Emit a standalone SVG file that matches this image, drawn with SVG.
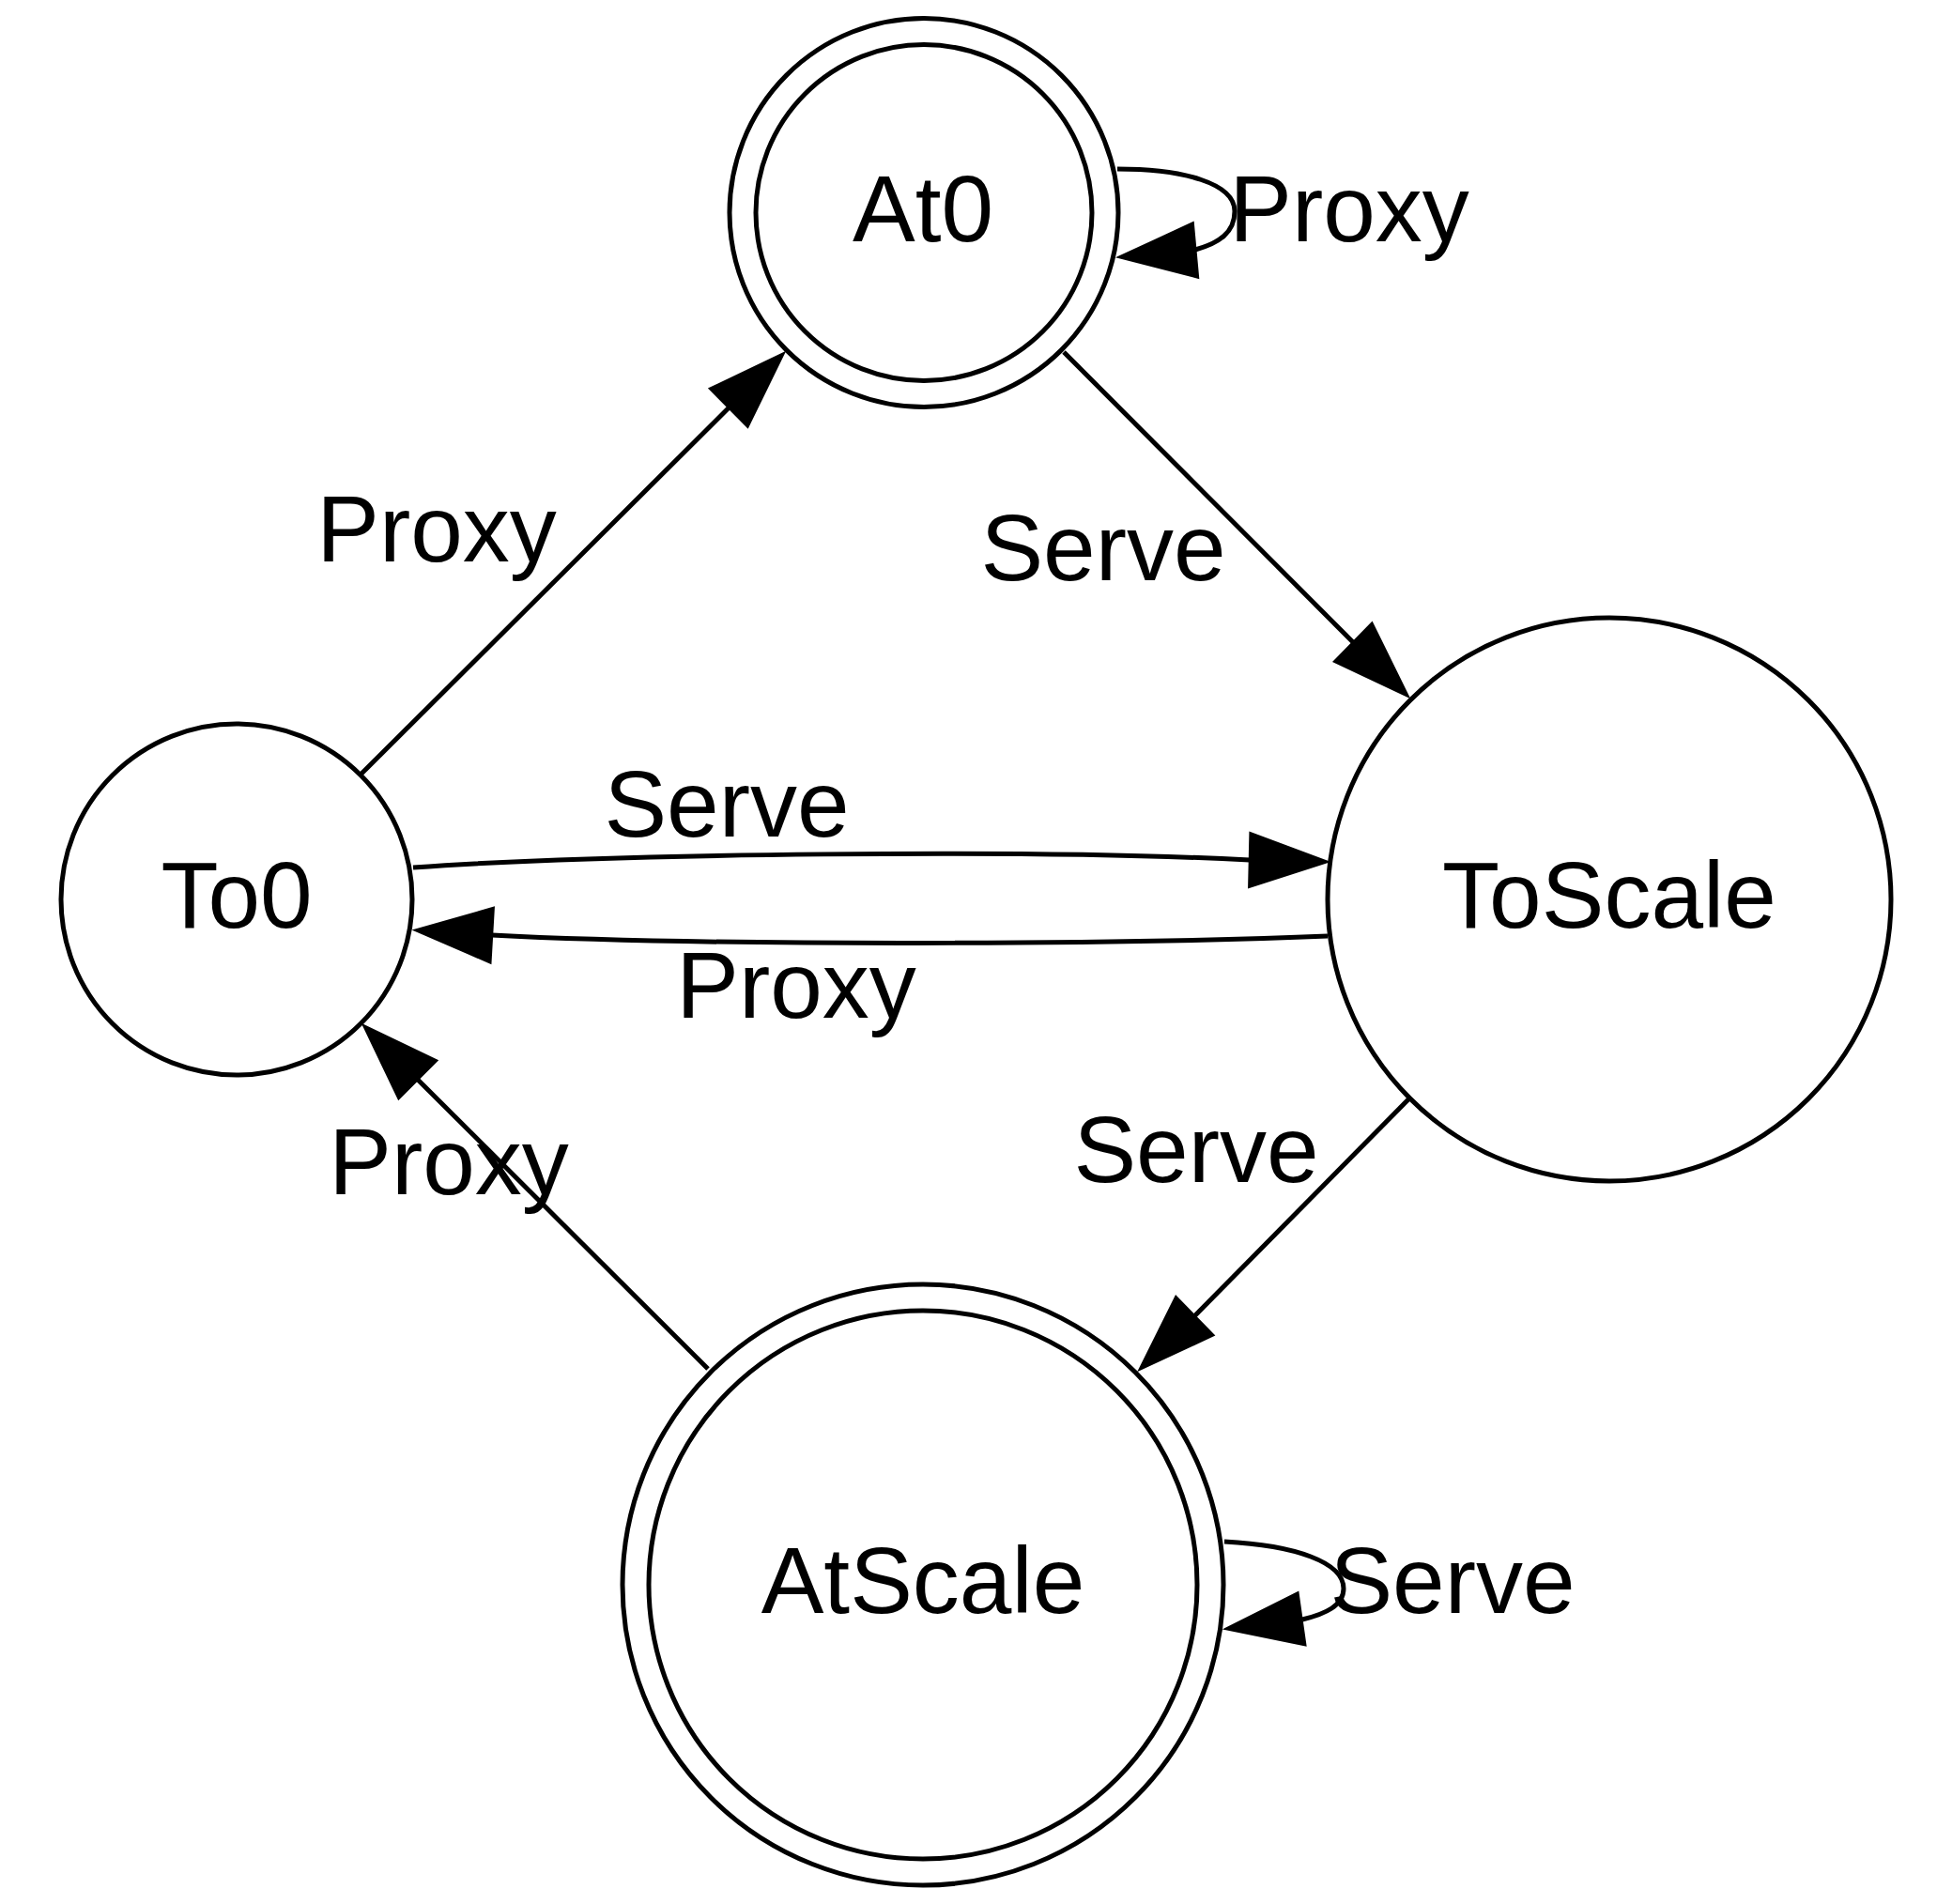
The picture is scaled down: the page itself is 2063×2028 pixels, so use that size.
<svg xmlns="http://www.w3.org/2000/svg" width="2063" height="2028" viewBox="0 0 2063 2028">
<style>
.node { fill: none; stroke: #000; stroke-width: 5; }
.edge { fill: none; stroke: #000; stroke-width: 5; }
.arrow { fill: #000; stroke: #000; stroke-width: 2; stroke-linejoin: miter; }
text { font-family: "Liberation Sans", Arial, Helvetica, sans-serif; font-size: 100px; fill: #000; text-anchor: middle; }
</style>
<rect width="2063" height="2028" fill="#fff"/>
<g id="connectors">
  <g id="e-at0-loop">
    <path class="edge" d="M1190,180 C1260,180 1315,195 1315,225 C1315,248 1298,259 1273,266"/>
    <polygon class="arrow" points="1191,274 1270.8,237.1 1276.2,295.9"/>
    <text x="1437" y="257">Proxy</text>
  </g>
  <g id="e-to0-at0">
    <path class="edge" d="M385,824 L776,434.5"/>
    <polygon class="arrow" points="835,376 796.4,455.1 755.6,413.9"/>
    <text x="465" y="598">Proxy</text>
  </g>
  <g id="e-at0-toscale">
    <path class="edge" d="M1133,375 L1441,684"/>
    <polygon class="arrow" points="1500,742 1420.7,704.7 1461.3,663.3"/>
    <text x="1175" y="618">Serve</text>
  </g>
  <g id="e-to0-toscale">
    <path class="edge" d="M440,924 C650,909 1100,904 1331,916"/>
    <polygon class="arrow" points="1414.5,918 1331.4,887 1330.1,945"/>
    <text x="774" y="891">Serve</text>
  </g>
  <g id="e-toscale-to0">
    <path class="edge" d="M1414,997 C1200,1006 750,1008 524,996"/>
    <polygon class="arrow" points="441.5,990.7 525.9,966.7 522.5,1025.7"/>
    <text x="848" y="1084">Proxy</text>
  </g>
  <g id="e-toscale-atscale">
    <path class="edge" d="M1500,1171 L1272.5,1401.5"/>
    <polygon class="arrow" points="1213.4,1459 1292.7,1422.3 1252.3,1380.7"/>
    <text x="1274" y="1259">Serve</text>
  </g>
  <g id="e-atscale-to0">
    <path class="edge" d="M754,1458 L445,1150"/>
    <polygon class="arrow" points="387,1092 465.5,1129.5 424.5,1170.5"/>
    <text x="478" y="1272">Proxy</text>
  </g>
  <g id="e-atscale-loop">
    <path class="edge" d="M1304,1642 C1380,1646 1431,1664 1431,1692 C1431,1710 1412,1719 1387,1725"/>
    <polygon class="arrow" points="1305,1735 1382.5,1696 1390.5,1752.5"/>
    <text x="1547" y="1718">Serve</text>
  </g>
</g>
<g id="node-at0">
  <circle class="node" cx="984" cy="226.5" r="207"/>
  <circle class="node" cx="984" cy="226.5" r="179"/>
  <text x="983" y="257">At0</text>
</g>
<g id="node-to0">
  <circle class="node" cx="252" cy="958" r="187"/>
  <text x="252" y="988">To0</text>
</g>
<g id="node-toscale">
  <circle class="node" cx="1714" cy="958" r="300"/>
  <text x="1714" y="988">ToScale</text>
</g>
<g id="node-atscale">
  <circle class="node" cx="983" cy="1688" r="320"/>
  <circle class="node" cx="983" cy="1688" r="292"/>
  <text x="983" y="1718">AtScale</text>
</g>
</svg>
